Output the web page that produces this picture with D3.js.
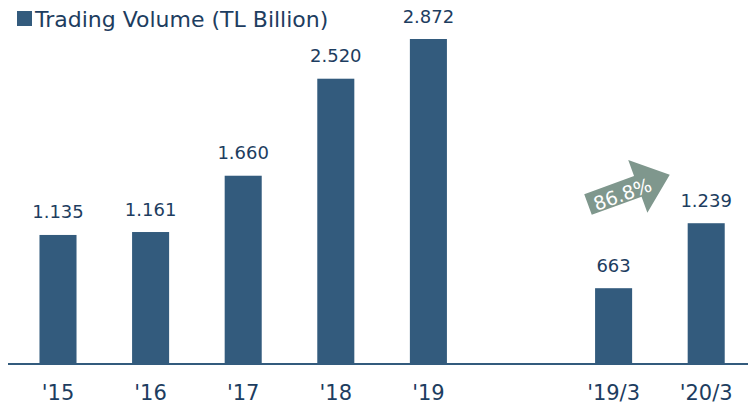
<!DOCTYPE html>
<html>
<head>
<meta charset="utf-8">
<script src="https://cdn.jsdelivr.net/npm/d3@7"></script>
<style>
  body { margin: 0; background: #fff; }
  svg { display: block; font-family: "DejaVu Sans", Verdana, sans-serif; }
</style>
</head>
<body>
<svg id="chart"></svg>
<script>
// data
const categories = ["'15", "'16", "'17", "'18", "'19", "", "'19/3", "'20/3"];
const volumes = [1135, 1161, 1660, 2520, 2872, null, 663, 1239];
const legendLabel = "Trading Volume (TL Billion)";
const changeLabel = "86.8%";

const width = 748, height = 406;
const barColor = "#335b7d", textColor = "#1d3d60", arrowColor = "#7f978d";

const svg = d3.select("#chart").attr("width", width).attr("height", height);

const x = d3.scaleBand()
    .domain(d3.range(categories.length))
    .range([11.7, 752.5])
    .paddingInner(0.6)
    .paddingOuter(0.3);

const y = d3.scaleLinear().domain([0, 2872]).range([363, 39]);

// thousands with a dot, like the original
const fmt = d3.formatLocale({ decimal: ",", thousands: ".", grouping: [3], currency: ["", ""] }).format(",d");

const data = categories.map((c, i) => ({ i: i, cat: c, v: volumes[i] })).filter(d => d.v != null);

svg.append("g").selectAll("rect")
    .data(data)
    .join("rect")
    .attr("x", d => x(d.i))
    .attr("width", x.bandwidth())
    .attr("y", d => y(d.v))
    .attr("height", d => y(0) - y(d.v))
    .attr("fill", barColor);

svg.append("g").selectAll("text")
    .data(data)
    .join("text")
    .attr("x", d => x(d.i) + x.bandwidth() / 2)
    .attr("y", d => y(d.v) - 16.5)
    .attr("text-anchor", "middle")
    .attr("font-size", 18)
    .attr("fill", textColor)
    .text(d => fmt(d.v));

// baseline
svg.append("line")
    .attr("x1", 8).attr("x2", width)
    .attr("y1", y(0) + 1).attr("y2", y(0) + 1)
    .attr("stroke", barColor).attr("stroke-width", 2);

// category labels
svg.append("g").selectAll("text")
    .data(data)
    .join("text")
    .attr("x", d => x(d.i) + x.bandwidth() / 2)
    .attr("y", 400)
    .attr("text-anchor", "middle")
    .attr("font-size", 21)
    .attr("fill", textColor)
    .text(d => d.cat);

// legend
const lg = svg.append("g");
lg.append("rect").attr("x", 17).attr("y", 11).attr("width", 15).attr("height", 15).attr("fill", barColor);
lg.append("text").attr("x", 35).attr("y", 27).attr("font-size", 22).attr("fill", textColor).text(legendLabel);

// growth arrow between '19/3 and '20/3
const arrow = svg.append("g").attr("transform", "translate(588,204.5) rotate(-20)");
arrow.append("path")
    .attr("d", d3.line()([[0, -11], [53, -11], [53, -28], [87, 0], [53, 28], [53, 11], [0, 11]]) + "Z")
    .attr("fill", arrowColor);
arrow.append("text")
    .attr("x", 36).attr("y", 2)
    .attr("text-anchor", "middle")
    .attr("dominant-baseline", "central")
    .attr("font-size", 19)
    .attr("fill", "#fff")
    .text(changeLabel);
</script>
</body>
</html>
